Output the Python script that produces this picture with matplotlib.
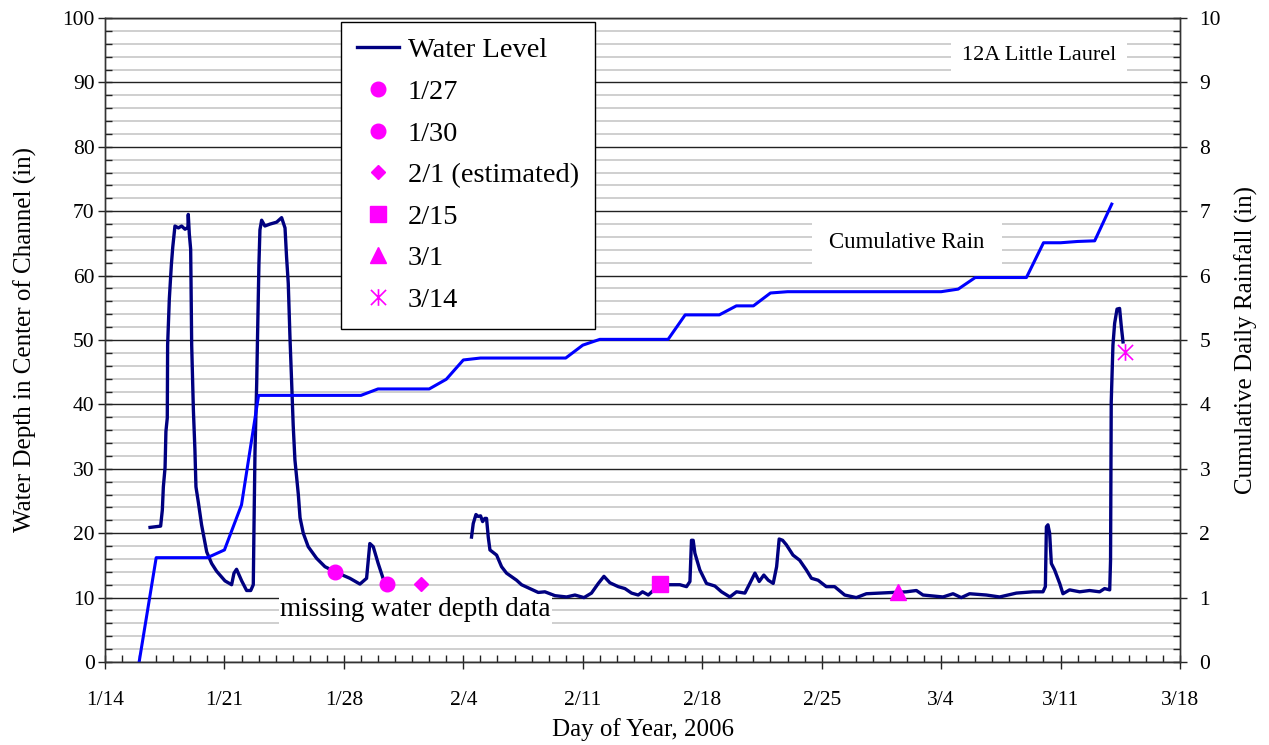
import matplotlib
matplotlib.use("Agg")
import matplotlib.pyplot as plt
import matplotlib.dates as mdates
from matplotlib.ticker import MultipleLocator
from matplotlib.path import Path
from matplotlib.lines import Line2D
from datetime import datetime, timedelta
import numpy as np

plt.rcParams['font.family'] = ['Liberation Serif', 'DejaVu Serif']

BASE = datetime(2006, 1, 14)

# ---- Water level (days since 1/14, depth in inches) ----
wl_day_1 = [2.64, 3.26, 3.36, 3.42, 3.52, 3.57, 3.65, 3.67, 3.77, 3.89, 3.97, 4.10, 4.30, 4.49,
            4.69, 4.86, 4.88, 4.94, 5.02, 5.04, 5.08, 5.18, 5.27, 5.33, 5.47, 5.66, 5.96, 6.25,
            6.54, 7.03, 7.42, 7.56, 7.71, 8.01, 8.30, 8.54, 8.69, 8.73, 8.79, 8.89, 8.93, 9.02,
            9.08, 9.18, 9.37, 9.67, 10.06, 10.35, 10.55, 10.64, 10.74, 10.84, 10.94, 11.03, 11.13,
            11.33, 11.43, 11.62, 11.91, 12.40, 12.89, 13.57, 14.35, 14.94, 15.33, 15.52, 15.72,
            16.01, 16.27]
wl_val_1 = [20.9, 21.1, 23.6, 27.2, 30.2, 35.8, 37.9, 49.2, 56.4, 61.7, 64.4, 67.7, 67.4, 67.7,
            67.2, 67.5, 69.5, 66.5, 64.1, 59.3, 49.2, 39.1, 32.9, 27.2, 24.8, 21.3, 17.1, 15.3,
            14.1, 12.6, 12.0, 13.8, 14.4, 12.6, 11.1, 11.1, 12.0, 20.7, 32.6, 43.3, 49.2, 61.7,
            67.1, 68.6, 67.7, 68.0, 68.3, 69.0, 67.4, 62.9, 58.8, 50.4, 43.3, 36.7, 31.4,
            26.0, 22.4, 20.0, 17.9, 16.1, 14.8, 13.9, 13.0, 12.1, 13.0, 18.4, 17.9,
            15.3, 13.2]

wl_day_2 = [21.48, 21.58, 21.74, 21.87, 22.01, 22.13, 22.26, 22.36, 22.46, 22.56, 22.95, 23.24,
            23.53, 24.12, 24.41, 24.90, 25.39, 25.78, 26.37, 27.05, 27.54, 28.07, 28.51, 28.91,
            29.24, 29.59, 30.08, 30.47, 30.86, 31.25, 31.50, 31.84, 32.13, 33.01, 33.69, 34.08,
            34.28, 34.37, 34.47, 34.57, 34.86, 35.25, 35.74, 36.13, 36.62, 37.01, 37.50, 37.79,
            38.09, 38.34, 38.61, 38.87, 39.16, 39.36, 39.51, 39.71, 39.93, 40.32, 40.71, 41.10,
            41.40, 41.79, 42.27, 42.76, 43.35, 44.03, 44.62, 45.40, 46.18, 46.96, 47.55, 47.94,
            49.11, 49.70, 50.18, 50.67, 51.65, 52.43, 53.41, 54.38, 54.97, 55.11, 55.17, 55.26,
            55.36, 55.46, 55.65, 55.95, 56.14, 56.53, 57.12, 57.70, 58.29, 58.58, 58.88, 58.93,
            58.97, 59.07, 59.17, 59.31, 59.46, 59.56, 59.66]
wl_val_2 = [19.4, 21.5, 22.9, 22.6, 22.7, 21.8, 22.3, 22.3, 19.4, 17.4, 16.6, 14.8,
            13.8, 12.7, 12.0, 11.4, 10.8, 10.9, 10.3, 10.1, 10.4, 10.0, 10.7, 12.2,
            13.3, 12.3, 11.7, 11.4, 10.7, 10.4, 10.9, 10.4, 11.1, 12.0, 12.0, 11.7,
            12.5, 18.9, 18.9, 16.9, 14.3, 12.2, 11.8, 10.9, 10.1, 10.9, 10.7, 12.2,
            13.8, 12.5, 13.5, 12.7, 12.2, 14.8, 19.1, 18.9, 18.2, 16.6, 15.8, 14.3,
            13.0, 12.7, 11.7, 11.7, 10.4, 10.0, 10.6, 10.7, 10.8, 10.9, 11.1, 10.4,
            10.1, 10.6, 10.0, 10.6, 10.4, 10.1, 10.7, 10.9, 10.9, 11.7, 21.0, 21.3,
            20.0, 15.3, 14.3, 12.2, 10.6, 11.2, 10.9, 11.1, 10.9, 11.4, 11.2, 15.8,
            40.4, 49.2, 52.6, 54.8, 54.9, 52.1, 49.7]

# ---- Cumulative rain (days since 1/14, inches) ----
rain_day = list(range(2, 60))
rain_val = [0.00, 1.62, 1.62, 1.62, 1.62, 1.74, 2.44, 4.14, 4.14, 4.14, 4.14, 4.14, 4.14, 4.14,
            4.24, 4.24, 4.24, 4.24, 4.39, 4.69, 4.72, 4.72, 4.72, 4.72, 4.72, 4.72, 4.92, 5.01,
            5.01, 5.01, 5.01, 5.01, 5.39, 5.39, 5.39, 5.53, 5.53, 5.73, 5.75, 5.75, 5.75, 5.75,
            5.75, 5.75, 5.75, 5.75, 5.75, 5.75, 5.79, 5.97, 5.97, 5.97, 5.97, 6.51, 6.51, 6.53,
            6.54, 7.11]

# ---- Manual measurements ----
meas_labels = ["1/27", "1/30", "2/1 (estimated)", "2/15", "3/1", "3/14"]
meas_day = [13.5, 16.5, 18.5, 32.5, 46.5, 59.75]
meas_val = [14.0, 12.1, 12.1, 12.1, 10.9, 48.2]

xtick_days = [0, 7, 14, 21, 28, 35, 42, 49, 56, 63]
xtick_labels = ["1/14", "1/21", "1/28", "2/4", "2/11", "2/18", "2/25", "3/4", "3/11", "3/18"]


def to_dates(days):
    return [BASE + timedelta(days=float(d)) for d in days]


fig = plt.figure(figsize=(12.69, 7.45), dpi=100)
ax = fig.add_axes([105 / 1269, 1 - 662 / 745, 1075 / 1269, 644 / 745])
ax2 = ax.twinx()

# grid
ax.set_ylim(0, 100)
ax.yaxis.set_major_locator(MultipleLocator(10))
ax.yaxis.set_minor_locator(MultipleLocator(2))
ax.grid(axis='y', which='major', color='#222222', lw=1.0, zorder=0)
ax.grid(axis='y', which='minor', color='#cccccc', lw=1.3, zorder=0)
ax.set_axisbelow(True)

# water level
ax.plot(to_dates(wl_day_1), wl_val_1, color='#000080', lw=2.4, zorder=3, solid_joinstyle='round')
ax.plot(to_dates(wl_day_2), wl_val_2, color='#000080', lw=2.4, zorder=3, solid_joinstyle='round')

# measurements
star = Path([(-1, -1), (1, 1), (-1, 1), (1, -1), (0, -1.1), (0, 1.1)],
            [Path.MOVETO, Path.LINETO, Path.MOVETO, Path.LINETO, Path.MOVETO, Path.LINETO])
mk = ['o', 'o', 'D', 's', '^', star]
ms = [10.5, 10.5, 7.5, 11, 11, 12]
mag = '#FF00FF'
handles = [Line2D([], [], color='#000080', lw=2.4)]
for lab, d, v, m, s in zip(meas_labels, meas_day, meas_val, mk, ms):
    if m is star:
        h, = ax.plot(to_dates([d]), [v], ls='none', marker=m, ms=s, markeredgecolor=mag,
                     markerfacecolor='none', mew=1.2, zorder=4)
    else:
        h, = ax.plot(to_dates([d]), [v], ls='none', marker=m, ms=s, color=mag,
                     markeredgecolor=mag, zorder=4)
    handles.append(h)

# rain
ax2.plot(to_dates(rain_day), rain_val, color='#0000FF', lw=2.2, zorder=2)
ax2.set_ylim(0, 10)
ax2.yaxis.set_major_locator(MultipleLocator(1))
ax2.yaxis.set_minor_locator(MultipleLocator(0.2))

# x axis
ax.set_xlim(BASE, BASE + timedelta(days=63))
ax.set_xticks(to_dates(xtick_days))
ax.set_xticklabels(xtick_labels)
ax.xaxis.set_minor_locator(mdates.DayLocator())

for a in (ax, ax2):
    a.tick_params(which='major', direction='inout', length=10, width=1.0, labelsize=15.5, color='#222222')
    a.tick_params(which='minor', direction='in', length=5, width=1.0, color='#222222')
    for sp in a.spines.values():
        sp.set_color('#333333')
        sp.set_linewidth(1.0)
ax.tick_params(axis='x', which='major', pad=16)
ax.tick_params(axis='y', which='major', pad=2.5)
ax2.tick_params(axis='y', which='major', pad=9)

ax.set_xlabel("Day of Year, 2006", fontsize=18, labelpad=6)
ax.set_ylabel("Water Depth in Center of Channel (in)", fontsize=18, labelpad=18)
ax2.set_ylabel("Cumulative Daily Rainfall (in)", fontsize=18, labelpad=10)

# annotations
ax2.text(0.869, 0.942, "12A Little Laurel", transform=ax.transAxes, ha='center', va='center',
         fontsize=16, zorder=6, bbox=dict(boxstyle='square,pad=0.5', facecolor='white', edgecolor='none'))
ax2.text(0.746, 0.652, "Cumulative Rain", transform=ax.transAxes, ha='center', va='center',
         fontsize=16.5, zorder=6, bbox=dict(boxstyle='square,pad=0.75', facecolor='white', edgecolor='none'))
ax2.text(0.289, 0.081, "missing water depth data", transform=ax.transAxes, ha='center', va='center',
         fontsize=19.5, zorder=6, bbox=dict(facecolor='white', edgecolor='none', pad=1))

leg = ax2.legend(handles, ["Water Level"] + meas_labels, loc='upper left',
                 bbox_to_anchor=(0.2195, 0.994), fontsize=20.5, frameon=True, fancybox=False,
                 edgecolor='black', framealpha=1, labelspacing=0.55, handlelength=1.5,
                 handletextpad=0.3, borderpad=0.55, borderaxespad=0)
leg.get_frame().set_linewidth(1.0)
leg.set_zorder(10)

fig.savefig("out.png", dpi=100)
